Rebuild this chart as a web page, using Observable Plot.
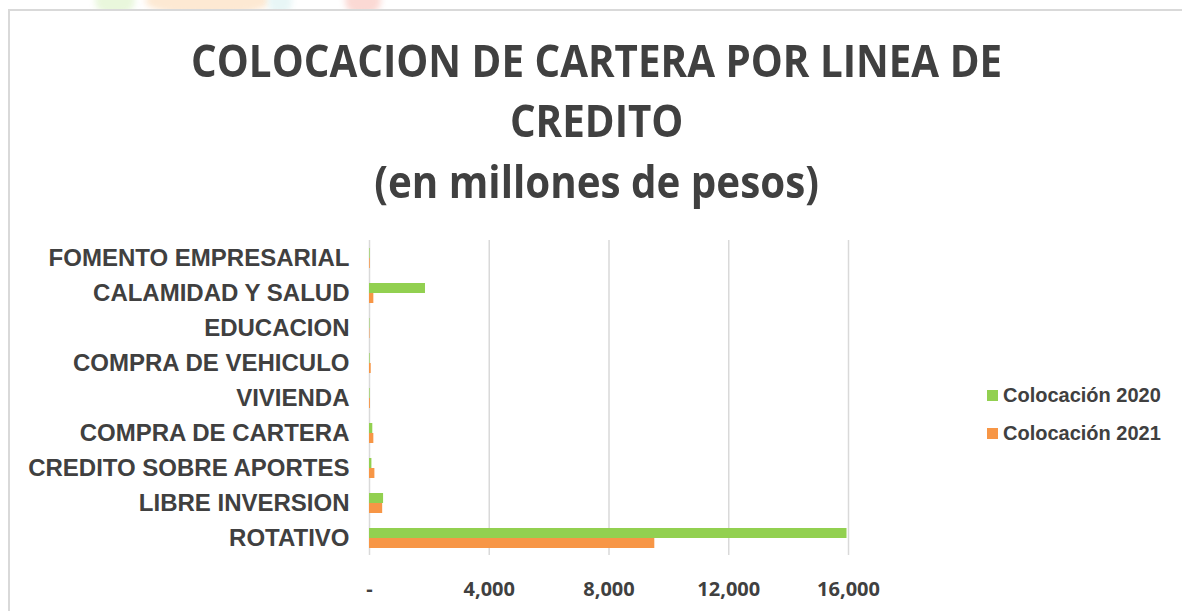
<!DOCTYPE html>
<html>
<head>
<meta charset="utf-8">
<script src="https://cdn.jsdelivr.net/npm/d3@7"></script>
<script src="https://cdn.jsdelivr.net/npm/@observablehq/plot@0.6"></script>
<style>
  html, body { margin: 0; padding: 0; background: #fff; }
  #wrap { position: relative; width: 1182px; height: 611px; overflow: hidden; background: #fff; }
  #deco { position: absolute; left: 0; top: 0; width: 1182px; height: 10px; overflow: hidden; }
  .blob { position: absolute; top: -14px; height: 30px; border-radius: 50%; filter: blur(3px); }
  #frame { position: absolute; left: 8px; top: 9px; width: 1300px; height: 700px; border: 2px solid #d9d9d9; box-sizing: border-box; }
  .tline { position: absolute; left: 6px; width: 1182px; text-align: center; font-family: "Open Sans", sans-serif; font-weight: 700; font-size: 44px; line-height: 60px; color: #404040; white-space: nowrap; }
  .tline span { display: inline-block; transform-origin: 50% 50%; }
  #chart { position: absolute; left: 0; top: 220px; }
  #legend { position: absolute; left: 987px; top: 383px; font-family: "Liberation Sans", Arial, sans-serif; font-weight: 700; font-size: 20px; color: #404040; }
  .lrow { position: relative; height: 38px; line-height: 24px; white-space: nowrap; }
  .lsw { position: absolute; left: 0; top: 7px; width: 11px; height: 11px; }
  .ltx { position: absolute; left: 16px; top: 0; }
</style>
</head>
<body>
<div id="wrap">
  <div id="deco">
    <div class="blob" style="left:95px;width:40px;background:#e9f7dc"></div>
    <div class="blob" style="left:145px;width:125px;background:#fde9d3"></div>
    <div class="blob" style="left:268px;width:24px;background:#e8f6f6"></div>
    <div class="blob" style="left:345px;width:36px;background:#fbd9d4"></div>
  </div>
  <div id="frame"></div>
  <div class="tline" style="top:30px"><span>COLOCACION DE CARTERA POR LINEA DE</span></div>
  <div class="tline" style="top:90px"><span>CREDITO</span></div>
  <div class="tline" style="top:151px"><span>(en millones de pesos)</span></div>
  <div id="chart"></div>
  <div id="legend"></div>
</div>
<script>
const categories = ["FOMENTO EMPRESARIAL","CALAMIDAD Y SALUD","EDUCACION","COMPRA DE VEHICULO","VIVIENDA","COMPRA DE CARTERA","CREDITO SOBRE APORTES","LIBRE INVERSION","ROTATIVO"];
const series = ["Colocación 2020","Colocación 2021"];
const colors = ["#92d050","#f79646"];
const values2020 = [20, 1870, 15, 20, 20, 110, 80, 470, 15950];
const values2021 = [25, 145, 15, 57, 30, 145, 180, 440, 9530];
const xTicks = [0, 4000, 8000, 12000, 16000];
const xTickLabels = ["-", "4,000", "8,000", "12,000", "16,000"];

const data = [];
categories.forEach((c, i) => {
  data.push({category: c, series: series[0], value: values2020[i]});
  data.push({category: c, series: series[1], value: values2021[i]});
});

// Title scaling (Calibri-like narrow look)
const spans = document.querySelectorAll(".tline span");
const w0 = spans[0].getBoundingClientRect().width;
const k = 811 / w0;
spans.forEach(s => { s.style.transform = `scaleX(${k})`; });

const chart = Plot.plot({
  width: 980,
  height: 391,
  marginLeft: 369,
  marginRight: 132,
  marginTop: 18,
  marginBottom: 54,
  style: {color: "#404040", background: "transparent", overflow: "visible"},
  x: {domain: [0, 16000], label: null},
  fy: {domain: categories, padding: 0, label: null},
  y: {domain: series, paddingInner: 0, paddingOuter: 0.7, axis: null},
  color: {domain: series, range: colors},
  marks: [
    Plot.gridX(xTicks, {stroke: "#d9d9d9", strokeOpacity: 1, strokeWidth: 1.5}),
    Plot.barX(data, {x: "value", y: "series", fy: "category", fill: "series"}),
    Plot.axisX({ticks: xTicks, tickSize: 0, tickPadding: 26, label: null,
      tickFormat: d => xTickLabels[xTicks.indexOf(d)],
      fontSize: 20, fontFamily: "Open Sans", fontWeight: 700}),
    Plot.axisFy({anchor: "left", tickSize: 0, tickPadding: 20, label: null,
      fontSize: 24, fontFamily: "Liberation Sans", fontWeight: 700})
  ]
});
document.getElementById("chart").appendChild(chart);

const legend = document.getElementById("legend");
series.forEach((s, i) => {
  const row = document.createElement("div");
  row.className = "lrow";
  row.innerHTML = `<div class="lsw" style="background:${colors[i]}"></div><div class="ltx">${s}</div>`;
  legend.appendChild(row);
});
</script>
</body>
</html>
